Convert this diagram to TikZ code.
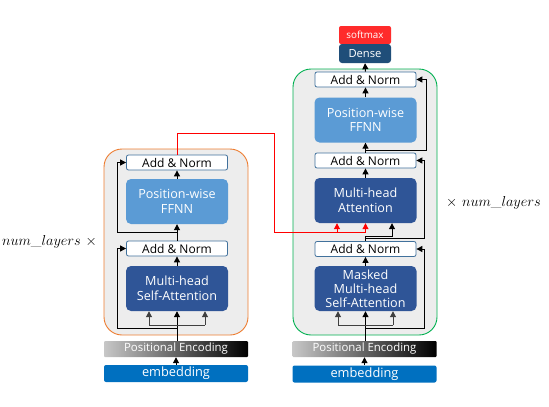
\documentclass[tikz,border=0pt]{standalone}
\usepackage{fontspec}
\setsansfont{Open Sans}
\usetikzlibrary{arrows.meta}
\definecolor{cOrange}{HTML}{ED7D31}
\definecolor{cGreen}{HTML}{00B050}
\definecolor{cBg}{HTML}{EDEDED}
\definecolor{cFF}{HTML}{5B9BD5}
\definecolor{cMH}{HTML}{2F5597}
\definecolor{cDense}{HTML}{1F4E79}
\definecolor{cEmb}{HTML}{0070C0}
\definecolor{cSoft}{HTML}{FF2B2B}
\definecolor{cAN}{HTML}{41719C}
\begin{document}
\begin{tikzpicture}[x=1pt,y=-1pt,
  base/.style={inner sep=0pt,align=center,font=\sffamily\fontsize{12.6}{14.5}\selectfont},
  anbox/.style={base,draw=cAN,fill=white,rounded corners=2pt,minimum width=101pt,minimum height=15pt,line width=0.8pt,font=\sffamily\fontsize{12}{13}\selectfont},
  ffbox/.style={base,fill=cFF,text=white,rounded corners=5pt,minimum width=102pt,minimum height=45pt},
  mhbox/.style={base,fill=cMH,text=white,rounded corners=5pt,minimum width=102pt,minimum height=45pt},
  pebox/.style={base,left color=black!22,right color=black,text=white,minimum width=144pt,minimum height=16pt,rounded corners=1pt,font=\sffamily\fontsize{11.4}{12}\selectfont},
  embbox/.style={base,fill=cEmb,text=white,minimum width=144pt,minimum height=17pt,rounded corners=2pt,font=\sffamily\fontsize{12.8}{13}\selectfont},
  cont/.style={fill=cBg,rounded corners=18pt,line width=0.9pt},
  arr/.style={-{Triangle[length=6pt,width=6pt]},line width=1pt,black},
  brarr/.style={-{Triangle[length=6pt,width=6pt]},line width=1pt,black!75},
  redarr/.style={-{Triangle[length=6pt,width=6pt]},line width=1pt,red},
  redl/.style={line width=1pt,red},
  lbl/.style={inner sep=0pt,font=\fontsize{14.5}{15}\selectfont}
]
\useasboundingbox (0,0) rectangle (549,407);
% containers
\draw[cont,draw=cOrange] (104,149) rectangle (248,335);
\draw[cont,draw=cGreen] (293,69) rectangle (437,335);

% ---------- encoder ----------
\node[anbox] (anL2) at (177,162.5) {Add \& Norm};
\node[ffbox] (ffL) at (177,201.5) {Position-wise\\FFNN};
\node[anbox] (anL1) at (177,248.5) {Add \& Norm};
\node[mhbox] (mhL) at (177,288.5) {Multi-head\\Self-Attention};
\node[pebox] (peL) at (176,349) {Positional Encoding};
\node[embbox] (embL) at (176,373.5) {embedding};

% ---------- decoder ----------
\node[base,fill=cSoft,text=white,minimum width=52pt,minimum height=18pt,rounded corners=2pt,font=\sffamily\fontsize{9.8}{10}\selectfont] (soft) at (365,35) {softmax};
\node[base,fill=cDense,text=white,minimum width=52pt,minimum height=19pt,rounded corners=3pt,font=\sffamily\fontsize{11.2}{12}\selectfont] (dense) at (365,53.5) {Dense};
\node[anbox] (anR3) at (365.5,79.5) {Add \& Norm};
\node[ffbox] (ffR) at (365.5,120) {Position-wise\\FFNN};
\node[anbox] (anR2) at (365.5,160.5) {Add \& Norm};
\node[mhbox] (attR) at (365.5,200.5) {Multi-head\\Attention};
\node[anbox] (anR1) at (365.5,249) {Add \& Norm};
\node[mhbox,font=\sffamily\fontsize{12.6}{14}\selectfont] (mmR) at (365.5,288.5) {Masked\\Multi-head\\Self-Attention};
\node[pebox] (peR) at (364.5,349) {Positional Encoding};
\node[embbox] (embR) at (364.5,374) {embedding};

% labels
\node[lbl,anchor=east] (nlL) at (97,242) {$num\_layers\ \times$};
\node[lbl,anchor=west] (nlR) at (446,203) {$\times\ num\_layers$};

% ---------- encoder connectors ----------
\draw[arr] (embL.north) -- (embL.north |- peL.south);
\draw[arr] (peL.north -| mhL.south) -- (mhL.south);
\coordinate (bLa) at (149,325);
\coordinate (bLb) at (205,325);
\draw[line width=1pt,black!75] (bLa) -- (bLb);
\draw[brarr] (bLa) -- (bLa |- mhL.south);
\draw[brarr] (bLb) -- (bLb |- mhL.south);
\coordinate (rL1) at (177,328);
\coordinate (xL1) at (117,328);
\draw[arr] (rL1) -- (xL1) |- (anL1.west);
\draw[arr] (mhL.north) -- (anL1.south);
\draw[arr] (anL1.north) -- (ffL.south);
\coordinate (rL2) at (177,232);
\coordinate (xL2) at (117,232);
\draw[arr] (rL2) -- (xL2) |- (anL2.west);
\draw[arr] (ffL.north) -- (anL2.south);

% red cross connection
\coordinate (r1) at (274,133);
\coordinate (r2) at (274,232);
\coordinate (r3) at (365.5,232);
\coordinate (ra) at (337,232);
\draw[redl] (anL2.north) |- (r1) -- (r2) -- (r3);
\draw[redarr] (ra) -- (ra |- attR.south);
\draw[redarr] (r3) -- (attR.south);

% ---------- decoder connectors ----------
\draw[arr] (embR.north) -- (embR.north |- peR.south);
\draw[arr] (peR.north -| mmR.south) -- (mmR.south);
\coordinate (bRa) at (338,325);
\coordinate (bRb) at (393,325);
\draw[line width=1pt,black!75] (bRa) -- (bRb);
\draw[brarr] (bRa) -- (bRa |- mmR.south);
\draw[brarr] (bRb) -- (bRb |- mmR.south);
\coordinate (rR1) at (365.5,328);
\coordinate (xR1) at (424,328);
\draw[arr] (rR1) -- (xR1) |- (anR1.east);
\draw[arr] (mmR.north) -- (anR1.south);
\coordinate (kR) at (392,236);
\draw[arr] (anR1.north) |- (kR) -- (kR |- attR.south);
\coordinate (rR2) at (365.5,238);
\coordinate (xR2) at (424,238);
\draw[arr] (rR2) -- (xR2) |- (anR2.east);
\draw[arr] (attR.north) -- (anR2.south);
\draw[arr] (anR2.north) -- (ffR.south);
\coordinate (rR3) at (365.5,150);
\coordinate (xR3) at (426,150);
\draw[arr] (rR3) -- (xR3) |- (anR3.east);
\draw[arr] (ffR.north) -- (anR3.south);
\draw[arr] (anR3.north) -- (dense.south);
\end{tikzpicture}
\end{document}
